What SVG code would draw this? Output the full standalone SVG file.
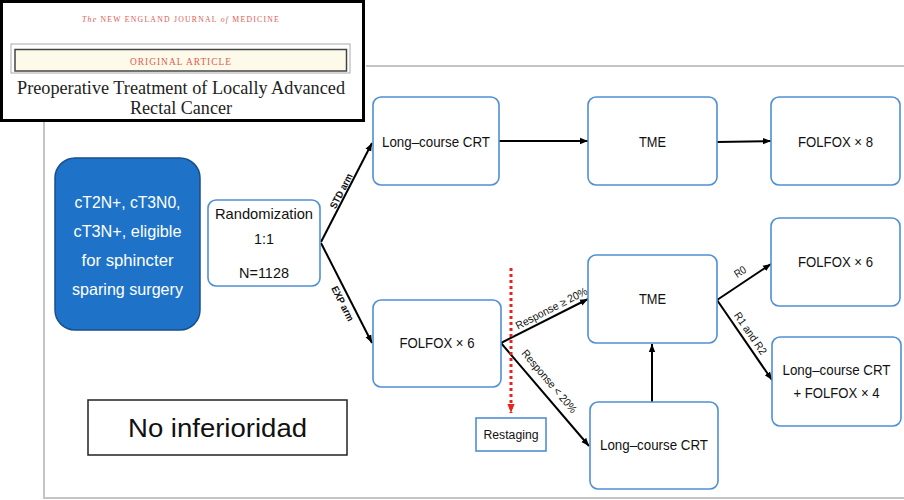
<svg xmlns="http://www.w3.org/2000/svg" width="904" height="500" viewBox="0 0 904 500">
  <defs>
    <marker id="ah" viewBox="0 0 10 10" refX="10" refY="5" markerWidth="8" markerHeight="8" markerUnits="userSpaceOnUse" orient="auto">
      <path d="M0,1 L10,5 L0,9 z" fill="#000"/>
    </marker>
    <marker id="ahRed" viewBox="0 0 10 10" refX="10" refY="5" markerWidth="9" markerHeight="9" markerUnits="userSpaceOnUse" orient="auto">
      <path d="M0,1 L10,5 L0,9 z" fill="#e8231f"/>
    </marker>
  </defs>
  <style>
    .frame { stroke: #c4c4c4; stroke-width: 2; fill: none; }
    .box { fill: #fff; stroke: #4f8fd3; stroke-width: 1.6; }
    .t { font-family: "Liberation Sans", Arial, sans-serif; font-size: 14.5px; fill: #111; text-anchor: middle; }
    .w { fill: #fff; font-size: 16.5px; }
    .lbl { font-family: "Liberation Sans", Arial, sans-serif; font-size: 11px; fill: #111; text-anchor: middle; }
    .arm { font-weight: bold; font-size: 10px; }
    .edge { stroke: #000; stroke-width: 2; fill: none; marker-end: url(#ah); }
    .serif { font-family: "Liberation Serif", serif; text-anchor: middle; }
  </style>

  <rect width="904" height="500" fill="#fff"/>

  <!-- slide frame -->
  <path class="frame" d="M366,66 H904 M44,122 V498 H904"/>

  <!-- journal header inset -->
  <g id="journal-header">
    <rect x="1.5" y="1.5" width="362" height="119" fill="#fff" stroke="#000" stroke-width="3"/>
    <text class="serif" x="181" y="22" font-size="7.5" fill="#e05a52" letter-spacing="1.2" textLength="198" lengthAdjust="spacingAndGlyphs"><tspan font-style="italic">The</tspan> NEW ENGLAND JOURNAL <tspan font-style="italic">of</tspan> MEDICINE</text>
    <rect x="11" y="44" width="339" height="29" fill="none" stroke="#aaa" stroke-width="1"/>
    <rect x="15" y="49.5" width="331.5" height="21.5" fill="#fdfaea" stroke="#444" stroke-width="1.5"/>
    <text class="serif" x="181" y="65" font-size="9.5" fill="#e05a52" letter-spacing="1" textLength="102" lengthAdjust="spacingAndGlyphs">ORIGINAL ARTICLE</text>
    <text class="serif" x="181" y="94" font-size="18.5" fill="#222" textLength="328" lengthAdjust="spacingAndGlyphs">Preoperative Treatment of Locally Advanced</text>
    <text class="serif" x="181" y="114" font-size="18.5" fill="#222" textLength="102" lengthAdjust="spacingAndGlyphs">Rectal Cancer</text>
  </g>

  <!-- connectors -->
  <g id="connectors">
    <path class="edge" d="M321,242 L372,143"/>
    <path class="edge" d="M321,243 L372,343"/>
    <path class="edge" d="M499,141 L588,141"/>
    <path class="edge" d="M717,142 L771,141"/>
    <path class="edge" d="M501,343 L588,299"/>
    <path class="edge" d="M501,343 L589,446"/>
    <path class="edge" d="M652,402 L652,344"/>
    <path class="edge" d="M717,300 L771,264"/>
    <path class="edge" d="M717,300 L772,380"/>
    <path d="M511,268 L511,413" stroke="#e8231f" stroke-width="3" stroke-dasharray="3,3" fill="none" marker-end="url(#ahRed)"/>

    <g transform="translate(346,193.5) rotate(-62.7)"><text class="lbl arm" x="0" y="-2" textLength="38" lengthAdjust="spacingAndGlyphs">STD arm</text></g>
    <g transform="translate(350.3,299.7) rotate(62.7)"><text class="lbl arm" x="0" y="12" textLength="38" lengthAdjust="spacingAndGlyphs">EXP arm</text></g>
    <g transform="translate(555.4,316.1) rotate(-27.1)"><text class="lbl" x="0" y="-5" textLength="79" lengthAdjust="spacingAndGlyphs">Response ≥ 20%</text></g>
    <g transform="translate(541.1,388.3) rotate(49.9)"><text class="lbl" x="0" y="-7" textLength="79" lengthAdjust="spacingAndGlyphs">Response &lt; 20%</text></g>
    <g transform="translate(746,280.8) rotate(-33.4)"><text class="lbl" x="0" y="-7" font-size="10" textLength="12" lengthAdjust="spacingAndGlyphs">R0</text></g>
    <g transform="translate(743.3,338.3) rotate(55.5)"><text class="lbl" x="0" y="-5" textLength="49" lengthAdjust="spacingAndGlyphs">R1 and R2</text></g>
  </g>

  <!-- nodes -->
  <g id="eligibility">
    <rect x="55" y="158" width="145" height="172" rx="20" fill="#1e73c8" stroke="#1a4f8a" stroke-width="1.5"/>
    <text class="t w" x="127.5" y="208" textLength="106" lengthAdjust="spacingAndGlyphs">cT2N+, cT3N0,</text>
    <text class="t w" x="127.5" y="237" textLength="108" lengthAdjust="spacingAndGlyphs">cT3N+, eligible</text>
    <text class="t w" x="127.5" y="266" textLength="92" lengthAdjust="spacingAndGlyphs">for sphincter</text>
    <text class="t w" x="127.5" y="295" textLength="111" lengthAdjust="spacingAndGlyphs">sparing surgery</text>
  </g>

  <g id="randomization">
    <rect class="box" x="208" y="200" width="112" height="86" rx="8"/>
    <text class="t" x="264" y="218.5" textLength="98" lengthAdjust="spacingAndGlyphs">Randomization</text>
    <text class="t" x="264" y="243.5" textLength="20" lengthAdjust="spacingAndGlyphs">1:1</text>
    <text class="t" x="264" y="277.5" textLength="50" lengthAdjust="spacingAndGlyphs">N=1128</text>
  </g>

  <g id="crt-std">
    <rect class="box" x="373" y="97" width="126" height="88" rx="8"/>
    <text class="t" x="436" y="146.5" textLength="108" lengthAdjust="spacingAndGlyphs">Long–course CRT</text>
  </g>

  <g id="tme-std">
    <rect class="box" x="588" y="97" width="129" height="88" rx="8"/>
    <text class="t" x="652.5" y="146.5" textLength="27" lengthAdjust="spacingAndGlyphs">TME</text>
  </g>

  <g id="folfox8">
    <rect class="box" x="771" y="97" width="129" height="88" rx="8"/>
    <text class="t" x="835.5" y="146.5" textLength="75" lengthAdjust="spacingAndGlyphs">FOLFOX × 8</text>
  </g>

  <g id="folfox6-exp">
    <rect class="box" x="373" y="300" width="128" height="87" rx="8"/>
    <text class="t" x="437" y="348" textLength="75" lengthAdjust="spacingAndGlyphs">FOLFOX × 6</text>
  </g>

  <g id="tme-exp">
    <rect class="box" x="588" y="255" width="129" height="88" rx="8"/>
    <text class="t" x="652.5" y="304" textLength="27" lengthAdjust="spacingAndGlyphs">TME</text>
  </g>

  <g id="folfox6-r0">
    <rect class="box" x="771" y="218" width="129" height="88" rx="8"/>
    <text class="t" x="835.5" y="267" textLength="75" lengthAdjust="spacingAndGlyphs">FOLFOX × 6</text>
  </g>

  <g id="crt-folfox4">
    <rect class="box" x="772" y="337" width="129" height="89" rx="8"/>
    <text class="t" x="836.5" y="375" textLength="108" lengthAdjust="spacingAndGlyphs">Long–course CRT</text>
    <text class="t" x="836.5" y="398" textLength="86" lengthAdjust="spacingAndGlyphs">+ FOLFOX × 4</text>
  </g>

  <g id="crt-exp">
    <rect class="box" x="590" y="402" width="128" height="87" rx="8"/>
    <text class="t" x="654" y="449.5" textLength="108" lengthAdjust="spacingAndGlyphs">Long–course CRT</text>
  </g>

  <g id="restaging">
    <rect x="476" y="418" width="70" height="33" fill="#fff" stroke="#4f8fd3" stroke-width="1.6"/>
    <text class="t" x="511" y="439" style="font-size:12.5px" textLength="55" lengthAdjust="spacingAndGlyphs">Restaging</text>
  </g>

  <g id="non-inferiority">
    <rect x="88" y="400" width="259" height="55" fill="#fff" stroke="#222" stroke-width="1.5"/>
    <text class="t" x="217.5" y="436.5" style="font-size:25px" textLength="179" lengthAdjust="spacingAndGlyphs">No inferioridad</text>
  </g>
</svg>
